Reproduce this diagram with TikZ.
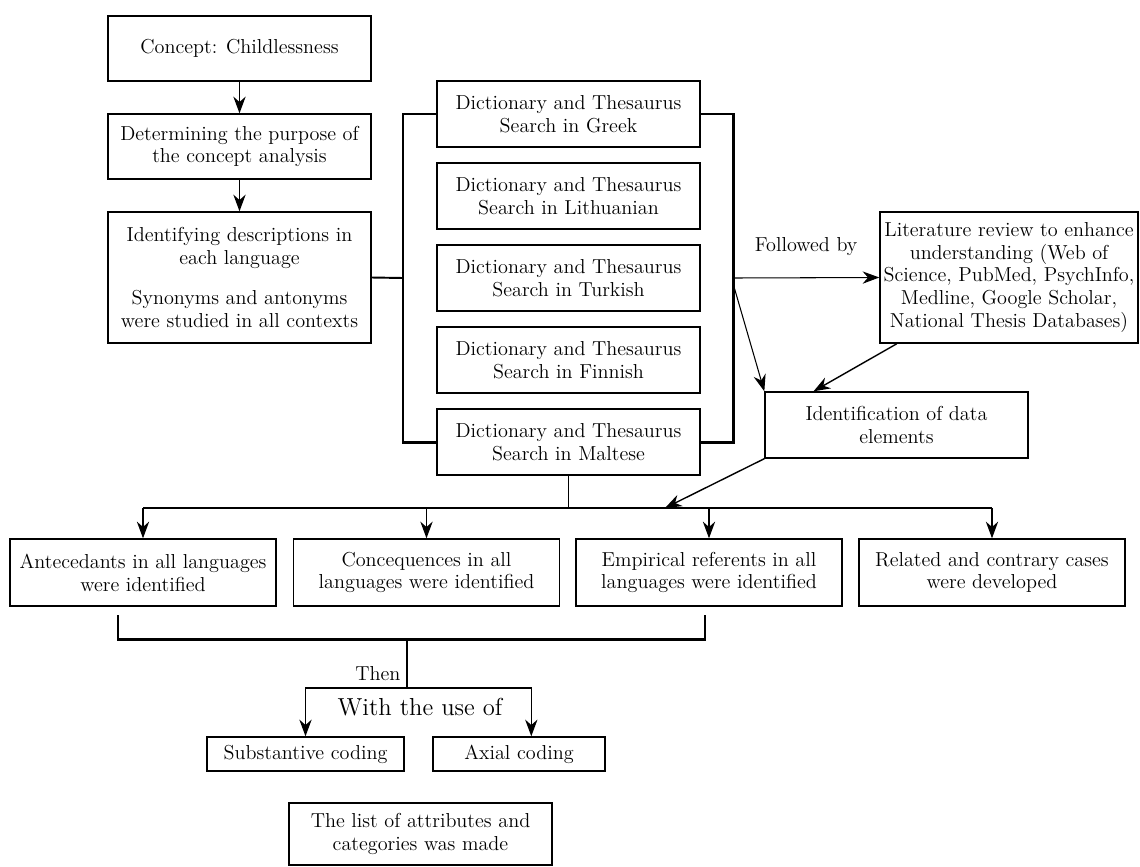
\documentclass[tikz,border=0pt]{standalone}
\usetikzlibrary{arrows.meta}
\begin{document}
\begin{tikzpicture}[x=0.02cm, y=-0.02cm,
    box/.style={rectangle, draw=black, line width=0.8pt, align=center, inner sep=2pt, font=\fontsize{11.5}{13}\selectfont},
    dict/.style={box, minimum width=5.26cm, minimum height=1.32cm},
    result/.style={box, minimum width=5.32cm, minimum height=1.34cm},
    arr/.style={-{Stealth[length=9.5pt, width=7pt]}, line width=0.8pt},
    brace/.style={line width=1.7pt}]
      \useasboundingbox (0,0) rectangle (1140,866);

      \node[box, minimum width=5.26cm, minimum height=1.3cm](concept) at (239.5,48.5) {Concept: Childlessness};
      \node[box, minimum width=5.26cm, minimum height=1.3cm](purpose) at (239.5,146.5) {Determining the purpose of\\the concept analysis};
      \node[box, minimum width=5.26cm, minimum height=2.62cm](describe) at (239.5,277.5) {Identifying descriptions in\\each language\\[10pt]Synonyms and antonyms\\were studied in all contexts};

      \node[dict](greek) at (568.5,114) {Dictionary and Thesaurus\\Search in Greek};
      \node[dict](lithuanian) at (568.5,196) {Dictionary and Thesaurus\\Search in Lithuanian};
      \node[dict](turkish) at (568.5,278) {Dictionary and Thesaurus\\Search in Turkish};
      \node[dict](finnish) at (568.5,360) {Dictionary and Thesaurus\\Search in Finnish};
      \node[dict](maltese) at (568.5,442) {Dictionary and Thesaurus\\Search in Maltese};

      \node[box, minimum width=5.16cm, minimum height=2.62cm](lit) at (1009,277.5) {Literature review to enhance\\understanding (Web of\\Science, PubMed, PsychInfo,\\Medline, Google Scholar,\\National Thesis Databases)};
      \node[dict](ident) at (896.5,425) {Identification of data\\elements};

      \node[result](anteced) at (143,572.5) {Antecedants in all languages\\were identified};
      \node[result](conseq) at (426.5,572.5) {Concequences in all\\languages were identified};
      \node[result](empiric) at (709,572.5) {Empirical referents in all\\languages were identified};
      \node[result](related) at (992,572.5) {Related and contrary cases\\were developed};

      \node[box, minimum width=3.94cm, minimum height=0.68cm](subst) at (305.5,754) {Substantive coding};
      \node[box, minimum width=3.44cm, minimum height=0.68cm](axial) at (519,754) {Axial coding};
      \node[box, minimum width=5.26cm, minimum height=1.24cm](attrib) at (420.5,834) {The list of attributes and\\categories was made};

      \node[font=\fontsize{14}{16}\selectfont](useof) at (420,707) {With the use of};

      \coordinate (lb) at (403,278);
      \coordinate (rb) at (733,278);
      \coordinate (split) at (568.5,508);
      \coordinate (hit) at (665,508);
      \coordinate (bl) at (118,615);
      \coordinate (br) at (705,615);
      \coordinate (join) at (407,639);
      \coordinate (fork) at (407,688);

      \draw[arr] (concept) -- (purpose);
      \draw[arr] (purpose) -- (describe);
      \draw[line width=1.1pt] (describe.east) -- (lb);
      \draw[brace] (greek.west) -| (lb) |- (maltese.west);
      \draw[brace] (greek.east) -| (rb) |- (maltese.east);
      \draw[arr, line width=0.6pt] (rb) -- node[above=9pt, font=\fontsize{11.5}{13}\selectfont] {Followed by} (lit.west);
      \draw[arr, line width=0.6pt] ([yshift=-3pt]rb) -- (ident.north west);
      \draw[arr] ([xshift=10pt]lit.south west) -- ([xshift=28pt]ident.north west);

      \draw[line width=0.8pt] (maltese.south) -- (split);
      \draw[line width=0.8pt] (split -| anteced) -- (split -| related);
      \draw[arr] (split -| anteced) -- (anteced.north);
      \draw[arr] (split -| conseq) -- (conseq.north);
      \draw[arr] (split -| empiric) -- (empiric.north);
      \draw[arr] (split -| related) -- (related.north);
      \draw[arr] (ident.south west) -- (hit);

      \draw[brace] (bl) |- (join) -| (br);
      \draw[line width=0.8pt] (join) -- node[pos=0.7, left, font=\fontsize{11.5}{13}\selectfont] {Then} (fork);
      \draw[arr] (fork) -| (subst.north);
      \draw[arr] (fork) -| ([xshift=7pt]axial.north);
    \end{tikzpicture}
\end{document}
